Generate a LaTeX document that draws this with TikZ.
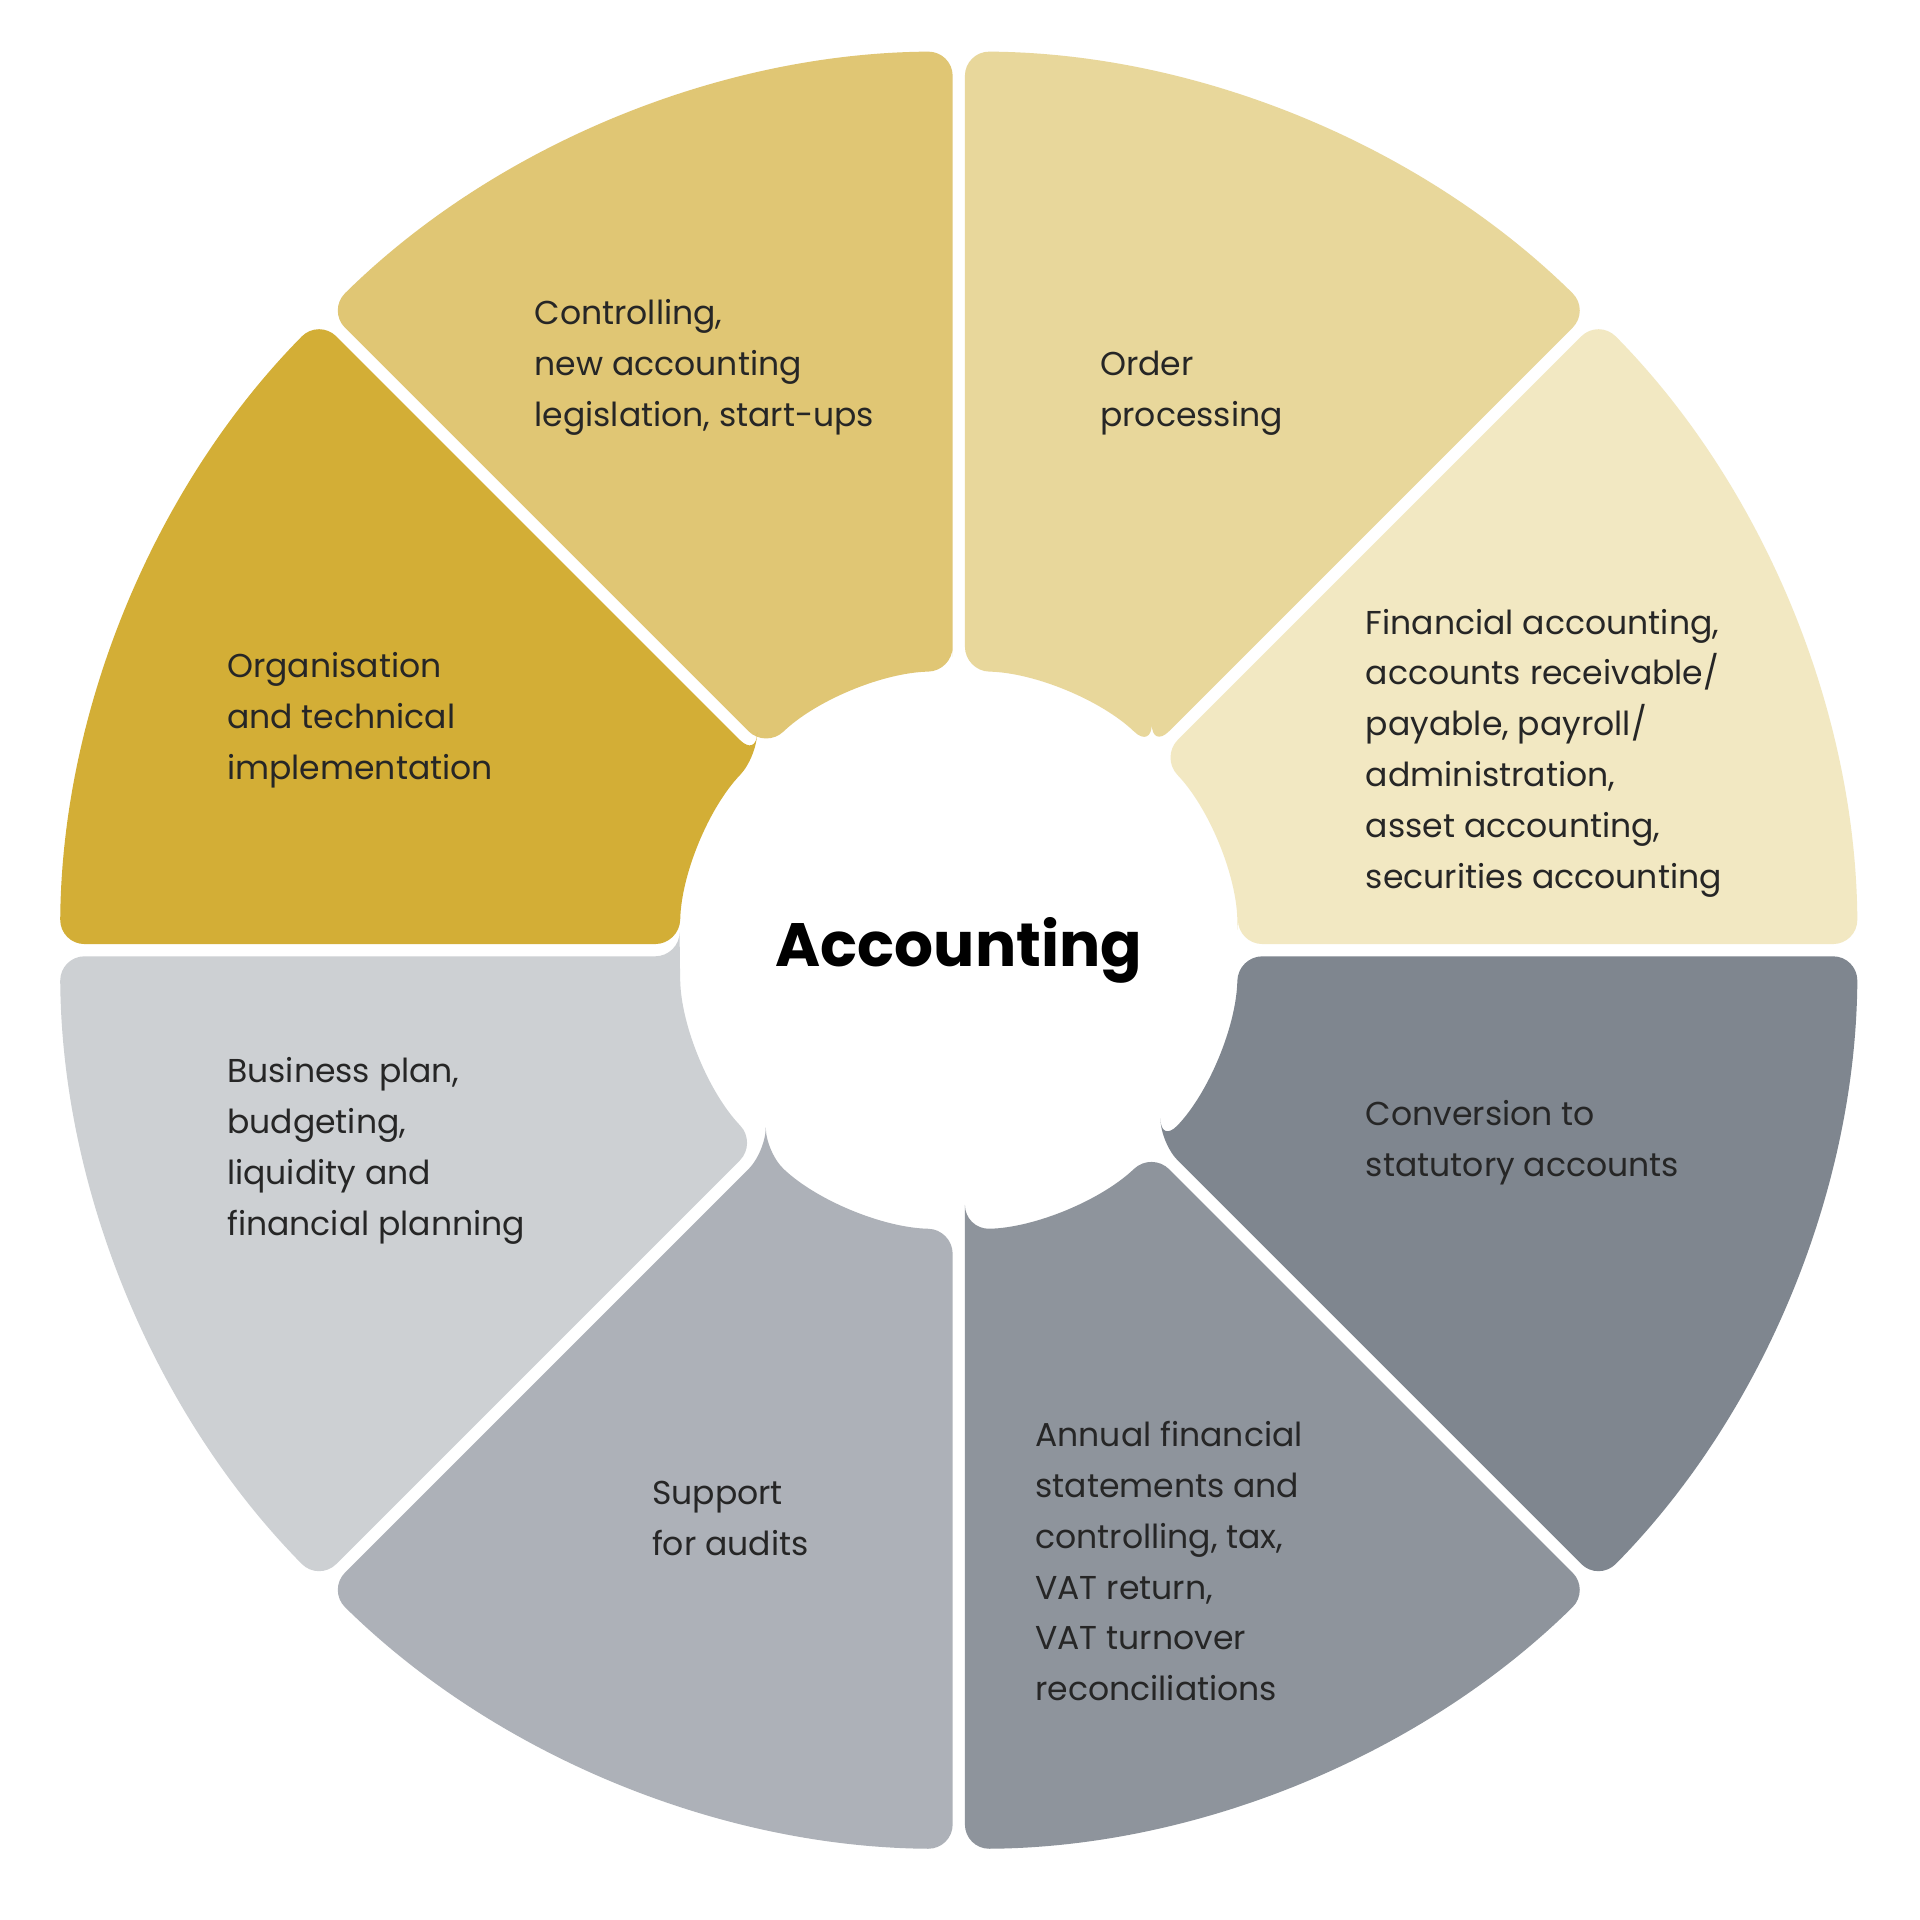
\documentclass[tikz,border=0pt]{standalone}
\usepackage{fontspec}
\setmainfont{Poppins}
\begin{document}
\begin{tikzpicture}[x=1pt,y=1pt,
  lbl/.style={anchor=west,align=left,font=\fontsize{27}{41.5}\selectfont,text=black!85},
  ]
\useasboundingbox (0,0) rectangle (1568,1568);
\fill[white] (0,0) rectangle (1568,1568);
\def\R{734}\def\r{228}\def\dR{0.39}\def\dr{1.26}
\newcommand{\sect}[3]{%
  \fill[#3,rounded corners=20pt] ([shift={(783,792)}]#1+\dr:\r) -- ([shift={(783,792)}]#1+\dR:\R)
    arc[start angle=#1+\dR,end angle=#2-\dR,radius=\R] -- ([shift={(783,792)}]#2-\dr:\r)
    arc[start angle=#2-\dr,end angle=#1+\dr,radius=\r] -- cycle;}
\definecolor{c1}{HTML}{E0C674}\definecolor{c2}{HTML}{E8D79B}
\definecolor{c3}{HTML}{F2E8C2}\definecolor{c4}{HTML}{7F868F}
\definecolor{c5}{HTML}{8E949C}\definecolor{c6}{HTML}{ADB1B8}
\definecolor{c7}{HTML}{CDD0D3}\definecolor{c8}{HTML}{D3AE36}
\sect{90}{135}{c1}
\sect{45}{90}{c2}
\sect{0}{45}{c3}
\sect{-45}{0}{c4}
\sect{-90}{-45}{c5}
\sect{-135}{-90}{c6}
\sect{180}{225}{c7}
\sect{135}{180}{c8}
\node[lbl] (t1) at (433,1268) {Controlling,\\new accounting\\legislation, start-ups};
\node[lbl] (t2) at (895,1247) {Order\\processing};
\node[lbl] (t3) at (1112,953) {Financial accounting,\\accounts receivable/\\payable, payroll/\\administration,\\asset accounting,\\securities accounting};
\node[lbl] (t4) at (182,980) {Organisation\\and technical\\implementation};
\node[lbl] (t5) at (182,628) {Business plan,\\budgeting,\\liquidity and\\financial planning};
\node[lbl] (t6) at (1112,635) {Conversion to\\statutory accounts};
\node[lbl] (t7) at (842,293) {Annual financial\\statements and\\controlling, tax,\\VAT return,\\VAT turnover\\reconciliations};
\node[lbl] (t8) at (529,328) {Support\\for audits};
\node[font=\fontsize{50}{60}\selectfont\bfseries] (c) at (783,792) {Accounting};
\end{tikzpicture}
\end{document}
